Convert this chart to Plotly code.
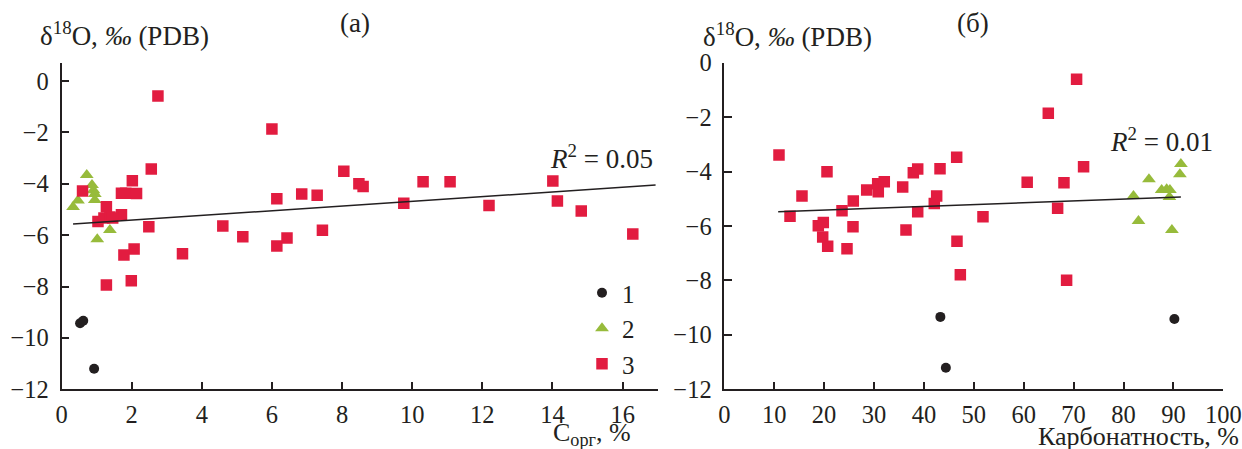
import plotly.graph_objects as go

# ---------------- data: panel (а) -- C_org, % vs d18O ----------------
a1_x = [0.53, 0.62, 0.93]
a1_y = [-9.43, -9.33, -11.2]

a2_x = [0.33, 0.47, 0.72, 0.87, 0.91, 0.95, 0.95, 1.38, 1.02]
a2_y = [-4.9, -4.65, -3.66, -4.05, -4.25, -4.4, -4.63, -5.8, -6.16]

a3_x = [2.75, 6.0, 2.56, 2.02, 0.6, 1.71, 1.83, 2.14, 1.28, 1.71, 1.04, 1.21, 1.38, 1.46,
        2.49, 2.07, 1.78, 1.28, 1.99, 3.45, 4.6, 5.17, 6.14, 6.14, 6.43, 6.85, 7.29, 7.44,
        8.05, 8.48, 8.6, 9.76, 10.31, 11.08, 12.19, 14.01, 14.14, 14.82, 16.29]
a3_y = [-0.58, -1.87, -3.42, -3.88, -4.28, -4.37, -4.37, -4.38, -4.89, -5.21, -5.47, -5.33,
        -5.29, -5.33, -5.67, -6.54, -6.77, -7.94, -7.77, -6.72, -5.64, -6.06, -4.58, -6.42,
        -6.11, -4.4, -4.45, -5.81, -3.51, -4.0, -4.11, -4.76, -3.92, -3.92, -4.85, -3.89,
        -4.67, -5.06, -5.95]

a_trend_x = [0.33, 16.94]
a_trend_y = [-5.57, -4.05]

# ---------------- data: panel (б) -- carbonate, % vs d18O ----------------
b1_x = [43.3, 44.4, 90.2]
b1_y = [-9.34, -11.21, -9.42]

b2_x = [91.5, 91.3, 85.1, 87.65, 88.65, 89.3, 89.2, 82.0, 83.0, 89.7]
b2_y = [-3.72, -4.1, -4.28, -4.68, -4.65, -4.68, -4.93, -4.9, -5.82, -6.15]

b3_x = [10.96, 20.58, 15.57, 13.17, 18.84, 19.84, 19.72, 20.72, 23.59, 25.85, 25.79, 24.59,
        28.54, 30.74, 30.86, 32.06, 35.75, 36.41, 37.88, 38.76, 38.76, 42.08, 42.56, 43.23,
        46.57, 46.63, 47.3, 70.6, 64.93, 72.0, 60.7, 68.07, 66.8, 51.84, 68.6]
b3_y = [-3.39, -4.01, -4.9, -5.64, -5.99, -5.87, -6.4, -6.74, -5.44, -5.08, -6.03, -6.84,
        -4.68, -4.45, -4.74, -4.37, -4.57, -6.15, -4.04, -3.91, -5.48, -5.17, -4.9, -3.9,
        -3.47, -6.56, -7.79, -0.61, -1.86, -3.82, -4.39, -4.41, -5.35, -5.66, -7.99]

b_trend_x = [10.8, 91.5]
b_trend_y = [-5.48, -4.93]

legend_names = ["1", "2", "3"]

# ---------------- styles ----------------
INK = "#231F20"
RED = "#E21C40"
GREEN = "#97BB3B"
FONT = "Liberation Serif, Times New Roman, DejaVu Serif, serif"

fig = go.Figure()

marker_styles = [
    dict(symbol="circle", size=10, color=INK),
    dict(symbol="triangle-up", size=12, color=GREEN),
    dict(symbol="square", size=11.5, color=RED),
]

for i, (xs, ys) in enumerate([(a1_x, a1_y), (a2_x, a2_y), (a3_x, a3_y)]):
    fig.add_trace(go.Scatter(x=xs, y=ys, mode="markers", name=legend_names[i],
                             marker=dict(**marker_styles[i], line=dict(width=0)),
                             xaxis="x", yaxis="y", showlegend=True))
fig.add_trace(go.Scatter(x=a_trend_x, y=a_trend_y, mode="lines",
                         line=dict(color=INK, width=1.5), showlegend=False,
                         xaxis="x", yaxis="y"))

for i, (xs, ys) in enumerate([(b1_x, b1_y), (b2_x, b2_y), (b3_x, b3_y)]):
    fig.add_trace(go.Scatter(x=xs, y=ys, mode="markers", name=legend_names[i],
                             marker=dict(**marker_styles[i], line=dict(width=0)),
                             xaxis="x2", yaxis="y2", showlegend=False))
fig.add_trace(go.Scatter(x=b_trend_x, y=b_trend_y, mode="lines",
                         line=dict(color=INK, width=1.5), showlegend=False,
                         xaxis="x2", yaxis="y2"))

axis_common = dict(showline=True, linecolor=INK, linewidth=1.5, ticks="inside",
                   ticklen=8, tickwidth=1.5, tickcolor=INK, showgrid=False,
                   zeroline=False, ticklabeloverflow="allow",
                   tickfont=dict(family=FONT, size=24.5, color=INK))

W, H = 1242, 449
ydom = [1 - 389.3 / H, 1 - 62.7 / H]

fig.update_layout(
    width=W, height=H,
    margin=dict(l=0, r=0, t=0, b=0, autoexpand=False),
    paper_bgcolor="white", plot_bgcolor="white",
    showlegend=True,
    legend=dict(x=582 / W, y=1 - 270 / H, xanchor="left", yanchor="top",
                font=dict(family=FONT, size=25, color=INK),
                bgcolor="rgba(0,0,0,0)", borderwidth=0, itemwidth=30),
    xaxis=dict(domain=[61.5 / W, 657.7 / W], range=[0, 17], tickvals=list(range(0, 17, 2)),
               anchor="y", ticklabelstandoff=3, **axis_common),
    yaxis=dict(domain=[ydom[0], 1 - 63.3 / H], range=[-12, 0.69], tickvals=list(range(-12, 1, 2)),
               anchor="x", ticklabelstandoff=6, **axis_common),
    xaxis2=dict(domain=[724.3 / W, 1223.3 / W], range=[0, 100], tickvals=list(range(0, 101, 10)),
                anchor="y2", ticklabelstandoff=3, **axis_common),
    yaxis2=dict(domain=ydom, range=[-12, 0], tickvals=list(range(-12, 1, 2)),
                anchor="x2", ticklabelstandoff=6, **axis_common),
)

tfont = dict(family=FONT, size=27, color=INK)
xfont = dict(family=FONT, size=26, color=INK)
ann = [
    dict(text="δ<sup>18</sup>O, <i>‰</i> (PDB)", x=38 / W, y=1 - 34 / H, xanchor="left", yanchor="middle", font=tfont),
    dict(text="δ<sup>18</sup>O, <i>‰</i> (PDB)", x=701 / W, y=1 - 35 / H, xanchor="left", yanchor="middle", font=tfont),
    dict(text="(а)", x=355 / W, y=1 - 23 / H, xanchor="center", yanchor="middle", font=tfont),
    dict(text="(б)", x=973 / W, y=1 - 23 / H, xanchor="center", yanchor="middle", font=tfont),
    dict(text="C<sub>орг</sub>, %", x=592 / W, y=1 - 434 / H, xanchor="center", yanchor="middle", font=xfont),
    dict(text="Карбонатность, %", x=1241 / W, y=1 - 436 / H, xanchor="right", yanchor="middle", font=xfont),
]
for a in ann:
    fig.add_annotation(xref="paper", yref="paper", showarrow=False, **a)

fig.add_annotation(xref="x", yref="y", x=16.93, y=-2.96, xanchor="right", yanchor="middle",
                   text="<i>R</i><sup>2</sup> = 0.05", showarrow=False, font=tfont)
fig.add_annotation(xref="x2", yref="y2", x=98.3, y=-2.84, xanchor="right", yanchor="middle",
                   text="<i>R</i><sup>2</sup> = 0.01", showarrow=False, font=tfont)

fig.write_html("out.html", config={"displayModeBar": False},
               post_script="document.body.style.margin='0';document.body.style.padding='0';"
                           "document.documentElement.style.overflow='hidden';")
